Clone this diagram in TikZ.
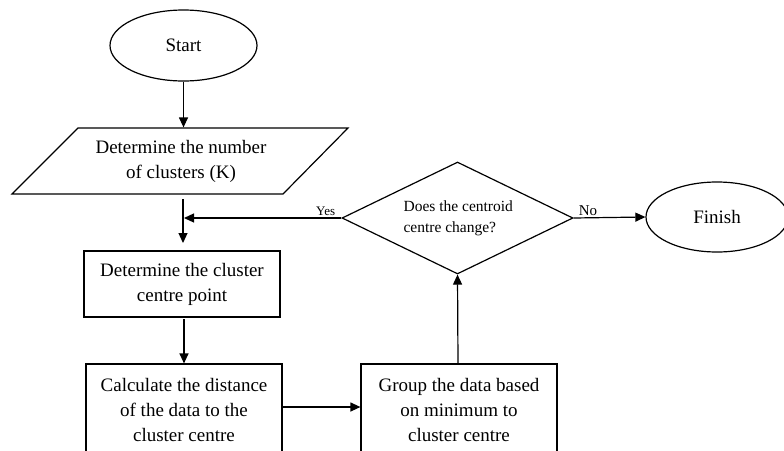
\documentclass[tikz,border=0pt]{standalone}
\usepackage{fontspec}
\setmainfont{Liberation Serif}
\usetikzlibrary{shapes.geometric,arrows.meta}
\begin{document}
\begin{tikzpicture}[x=1pt,y=-1pt,
  line width=1.2pt,
  arr/.style={-{Triangle[length=10pt,width=9pt]}},
  big/.style={font=\fontsize{19}{25}\selectfont},
  boxnode/.style={draw,rectangle,minimum width=196pt,inner sep=0pt,align=center,big},
  term/.style={draw,ellipse,inner sep=0pt,big}]
\useasboundingbox (0,0) rectangle (784,450);
\fill[white] (0,0) rectangle (784,450);
\clip (0,0) rectangle (784,450);
% Start
\node[term,minimum width=147pt,minimum height=71pt] (start) at (183.5,45.5) {Start};
% parallelogram (input)
\draw (78,128) -- (348,128) -- (283,194) -- (12,194) -- cycle;
\node[big,align=center,minimum height=66pt,inner sep=0pt] (para) at (181,161) {Determine the number\\of clusters (K)};
\coordinate (paraout) at (183,199);
% boxes
\node[boxnode,minimum height=66pt] (box1) at (182,284) {Determine the cluster\\centre point};
\node[boxnode,minimum height=92pt,text depth=0pt] (box2) at (184,410) {Calculate the distance\\of the data to the\\cluster centre};
\node[boxnode,minimum height=92pt] (box3) at (459,410) {Group the data based\\on minimum to\\cluster centre};
% decision
\node[draw,diamond,minimum width=231pt,minimum height=112pt,inner sep=0pt] (dec) at (457.5,218) {};
\node[anchor=west,align=left,inner sep=0pt,font=\fontsize{15.5}{21}\selectfont] (dectext) at (403,218) {Does the centroid\\centre change?};
% finish
\node[term,minimum width=142pt,minimum height=70pt] (finish) at (717,217) {Finish};
% connectors
\draw[arr] (start.south) -- (start.south |- para.north);
\draw[arr] (paraout) -- (paraout |- 243,243);
\coordinate (yesend) at (184,218);
\draw[arr] (dec.west) -- (yesend) node[pos=0.1,above=1pt,font=\fontsize{13}{15}\selectfont,inner sep=1pt] (yeslbl) {Yes};
\draw[arr] (184,319) -- (box2.north -| 184,0);
\draw[arr] (box2.east |- 0,407) -- (box3.west |- 0,407);
\draw[arr] (box3.north -| 458,0) -- (dec.south);
\draw[arr] (dec.east) -- (finish.west) node[pos=0.2,above=1pt,font=\fontsize{15}{17}\selectfont,inner sep=1pt] (nolbl) {No};
\end{tikzpicture}
\end{document}
